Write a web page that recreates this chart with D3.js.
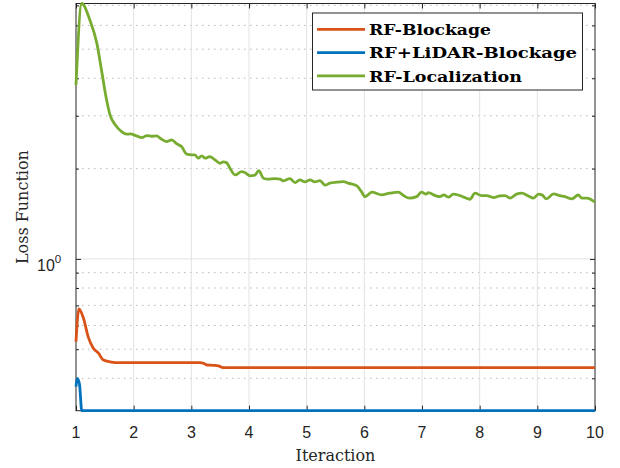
<!DOCTYPE html>
<html>
<head>
<meta charset="utf-8">
<script src="https://cdn.jsdelivr.net/npm/d3@7"></script>
<style>
body { margin: 0; background: #fff; }
</style>
</head>
<body>
<div id="chart"></div>
<script>
// values (iteration, loss)
var blockIter = [1.00, 1.05, 1.13, 1.21, 1.30, 1.39, 1.47, 1.59, 1.76, 2.50, 3.15, 3.21, 3.27, 3.38, 3.47, 3.55, 10.0];
var blockLoss = [0.530, 0.681, 0.634, 0.551, 0.504, 0.485, 0.461, 0.454, 0.451, 0.451, 0.451, 0.449, 0.443, 0.442, 0.440, 0.434, 0.434];

var lidarIter = [1.00, 1.02, 1.06, 1.10, 10.0];
var lidarLoss = [0.375, 0.400, 0.383, 0.312, 0.312];

var locIter = [1.00, 1.10, 1.24, 1.36, 1.45, 1.53, 1.59, 1.68, 1.79, 1.88, 1.94, 2.05, 2.14, 2.23, 2.31, 2.40,
  2.46, 2.57, 2.66, 2.75, 2.83, 2.92, 3.01, 3.06, 3.12, 3.18, 3.24, 3.32, 3.41, 3.50, 3.55, 3.61, 3.67, 3.76,
  3.87, 3.93, 4.02, 4.10, 4.17, 4.25, 4.33, 4.45, 4.54, 4.59, 4.71, 4.80, 4.88, 4.97, 5.06, 5.14, 5.23, 5.32,
  5.40, 5.52, 5.64, 5.72, 5.87, 5.95, 6.01, 6.13, 6.30, 6.44, 6.59, 6.68, 6.78, 6.91, 6.99, 7.07, 7.11, 7.23,
  7.31, 7.38, 7.46, 7.54, 7.66, 7.83, 7.92, 8.03, 8.12, 8.24, 8.35, 8.44, 8.53, 8.64, 8.73, 8.84, 8.93, 9.02,
  9.08, 9.16, 9.28, 9.39, 9.48, 9.60, 9.71, 9.77, 9.86, 10.0];
var locLoss = [3.80, 7.10, 6.26, 5.25, 4.17, 3.39, 3.02, 2.80, 2.657, 2.604, 2.61, 2.57, 2.537, 2.576, 2.564, 2.57,
  2.525, 2.46, 2.492, 2.417, 2.368, 2.234, 2.222, 2.222, 2.166, 2.205, 2.166, 2.193, 2.138, 2.084, 2.105, 2.094, 2.006, 1.905,
  1.954, 1.940, 1.891, 1.901, 1.969, 1.858, 1.844, 1.852, 1.844, 1.820, 1.852, 1.796, 1.834, 1.806, 1.834, 1.806, 1.824, 1.761,
  1.788, 1.802, 1.810, 1.788, 1.751, 1.676, 1.613, 1.669, 1.635, 1.656, 1.669, 1.626, 1.594, 1.613, 1.669, 1.644, 1.663, 1.626,
  1.613, 1.635, 1.606, 1.644, 1.626, 1.581, 1.656, 1.626, 1.626, 1.601, 1.622, 1.626, 1.594, 1.644, 1.656, 1.622, 1.594, 1.644,
  1.635, 1.585, 1.647, 1.626, 1.613, 1.585, 1.635, 1.594, 1.594, 1.545];

var seriesNames = ["RF-Blockage", "RF+LiDAR-Blockage", "RF-Localization"];
var seriesColors = ["#D95319", "#0072BD", "#77AC30"];

var xTicks = [1, 2, 3, 4, 5, 6, 7, 8, 9, 10];
var yMinor = [0.4, 0.5, 0.6, 0.7, 0.8, 0.9, 2, 3, 4, 5, 6, 7];
var yMajor = [1];

var width = 620, height = 468;
var plotLeft = 76, plotRight = 595, plotTop = 3.5, plotBottom = 410.7;
var sansFont = "'Liberation Sans', Arial, sans-serif";
var serifFont = "'DejaVu Serif', serif";

var svg = d3.select("#chart")
    .append("svg")
    .attr("width", width)
    .attr("height", height);

var x = d3.scaleLinear().domain([1, 10]).range([plotLeft, plotRight]);
var y = d3.scaleLog().domain([0.312, 7.1]).range([plotBottom, plotTop]);

// grid
svg.selectAll(".ygridminor")
    .data(yMinor)
    .enter()
    .append("line")
    .attr("x1", plotLeft).attr("x2", plotRight)
    .attr("y1", function (d) { return y(d); })
    .attr("y2", function (d) { return y(d); })
    .attr("stroke", "#b8b8b8")
    .attr("stroke-width", 1)
    .attr("stroke-dasharray", "1.5,4.5");

svg.selectAll(".xgrid")
    .data(xTicks.slice(1, -1))
    .enter()
    .append("line")
    .attr("x1", function (d) { return x(d); })
    .attr("x2", function (d) { return x(d); })
    .attr("y1", plotTop).attr("y2", plotBottom)
    .attr("stroke", "#e2e2e2")
    .attr("stroke-width", 1);

svg.selectAll(".ygrid")
    .data(yMajor)
    .enter()
    .append("line")
    .attr("x1", plotLeft).attr("x2", plotRight)
    .attr("y1", function (d) { return y(d); })
    .attr("y2", function (d) { return y(d); })
    .attr("stroke", "#e2e2e2")
    .attr("stroke-width", 1);

// axes, ticks pointing inward on all four sides
var axisColor = "#262626";
function styleAxis(g) {
    g.select(".domain").remove();
    g.selectAll("line").attr("stroke", axisColor);
}

svg.append("g")
    .attr("transform", "translate(0," + plotBottom + ")")
    .call(d3.axisBottom(x).tickValues(xTicks).tickSize(-5).tickFormat(""))
    .call(styleAxis);
svg.append("g")
    .attr("transform", "translate(0," + plotTop + ")")
    .call(d3.axisTop(x).tickValues(xTicks).tickSize(-5).tickFormat(""))
    .call(styleAxis);
svg.append("g")
    .attr("transform", "translate(" + plotLeft + ",0)")
    .call(d3.axisLeft(y).tickValues(yMajor).tickSize(-5).tickFormat(""))
    .call(styleAxis);
svg.append("g")
    .attr("transform", "translate(" + plotLeft + ",0)")
    .call(d3.axisLeft(y).tickValues(yMinor).tickSize(-3).tickFormat(""))
    .call(styleAxis);
svg.append("g")
    .attr("transform", "translate(" + plotRight + ",0)")
    .call(d3.axisRight(y).tickValues(yMajor).tickSize(-5).tickFormat(""))
    .call(styleAxis);
svg.append("g")
    .attr("transform", "translate(" + plotRight + ",0)")
    .call(d3.axisRight(y).tickValues(yMinor).tickSize(-3).tickFormat(""))
    .call(styleAxis);

svg.append("rect")
    .attr("x", plotLeft).attr("y", plotTop)
    .attr("width", plotRight - plotLeft).attr("height", plotBottom - plotTop)
    .attr("fill", "none")
    .attr("stroke", axisColor)
    .attr("stroke-width", 1);

// tick labels
svg.selectAll(".xlabel")
    .data(xTicks)
    .enter()
    .append("text")
    .attr("x", function (d) { return x(d); })
    .attr("y", 437.5)
    .attr("text-anchor", "middle")
    .attr("font-family", sansFont)
    .attr("font-size", "16px")
    .attr("fill", axisColor)
    .text(function (d) { return d; });

var ylab = svg.append("text")
    .attr("x", 37)
    .attr("y", 271)
    .attr("font-family", sansFont)
    .attr("font-size", "16px")
    .attr("fill", axisColor);
ylab.append("tspan").text("10");
ylab.append("tspan").attr("dy", -8).attr("font-size", "11.5px").text("0");

// axis titles
svg.append("text")
    .attr("x", (plotLeft + plotRight) / 2)
    .attr("y", 460.7)
    .attr("text-anchor", "middle")
    .attr("font-family", serifFont)
    .attr("font-size", "16px")
    .attr("fill", axisColor)
    .text("Iteraction");

svg.append("text")
    .attr("transform", "translate(28," + ((plotTop + plotBottom) / 2) + ") rotate(-90)")
    .attr("text-anchor", "middle")
    .attr("font-family", serifFont)
    .attr("font-size", "16px")
    .attr("fill", axisColor)
    .text("Loss Function");

// series lines
var allSeries = [
    { name: seriesNames[0], color: seriesColors[0], iter: blockIter, loss: blockLoss },
    { name: seriesNames[1], color: seriesColors[1], iter: lidarIter, loss: lidarLoss },
    { name: seriesNames[2], color: seriesColors[2], iter: locIter, loss: locLoss }
];

var line = d3.line()
    .x(function (d) { return x(d[0]); })
    .y(function (d) { return y(d[1]); })
    .curve(d3.curveMonotoneX);

svg.selectAll(".series")
    .data(allSeries)
    .enter()
    .append("path")
    .attr("d", function (s) { return line(d3.zip(s.iter, s.loss)); })
    .attr("fill", "none")
    .attr("stroke", function (s) { return s.color; })
    .attr("stroke-width", 2.8)
    .attr("stroke-linejoin", "round");

// legend
var legend = svg.append("g");
legend.append("rect")
    .attr("x", 312.5).attr("y", 13)
    .attr("width", 270).attr("height", 77)
    .attr("fill", "#fff")
    .attr("stroke", axisColor)
    .attr("stroke-width", 1);

var legendWidths = [122, 208, 153];
allSeries.forEach(function (s, i) {
    var ly = 29.3 + i * 23.3;
    legend.append("line")
        .attr("x1", 317).attr("x2", 365)
        .attr("y1", ly).attr("y2", ly)
        .attr("stroke", s.color)
        .attr("stroke-width", 2.8);
    legend.append("text")
        .attr("x", 369)
        .attr("y", ly + 5.7)
        .attr("font-family", serifFont)
        .attr("font-weight", "bold")
        .attr("font-size", "15px")
        .attr("fill", "#000")
        .attr("textLength", legendWidths[i])
        .attr("lengthAdjust", "spacingAndGlyphs")
        .text(s.name);
});
</script>
</body>
</html>
